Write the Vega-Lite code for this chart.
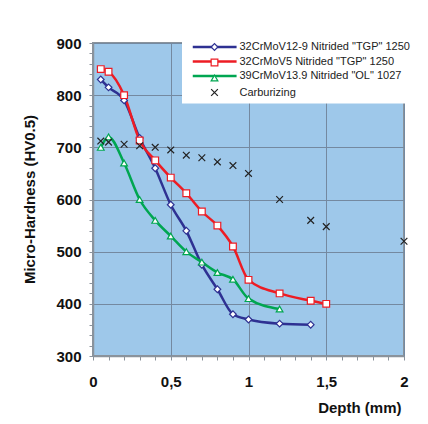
{
  "$schema": "https://vega.github.io/schema/vega-lite/v6.json",
  "width": 311,
  "height": 313,
  "autosize": "none",
  "padding": {"left": 93, "top": 43, "right": 24, "bottom": 68},
  "background": "white",
  "config": {
    "font": "Liberation Sans",
    "view": {"fill": "#9ec8ea", "stroke": "#8a939c", "strokeWidth": 2}
  },
  "data": {
    "values": [
      {"s": "32CrMoV12-9 Nitrided \"TGP\" 1250", "depth": 0.05, "hv": 830},
      {"s": "32CrMoV12-9 Nitrided \"TGP\" 1250", "depth": 0.1, "hv": 815},
      {"s": "32CrMoV12-9 Nitrided \"TGP\" 1250", "depth": 0.2, "hv": 790},
      {"s": "32CrMoV12-9 Nitrided \"TGP\" 1250", "depth": 0.3, "hv": 718},
      {"s": "32CrMoV12-9 Nitrided \"TGP\" 1250", "depth": 0.4, "hv": 660},
      {"s": "32CrMoV12-9 Nitrided \"TGP\" 1250", "depth": 0.5, "hv": 590},
      {"s": "32CrMoV12-9 Nitrided \"TGP\" 1250", "depth": 0.6, "hv": 540},
      {"s": "32CrMoV12-9 Nitrided \"TGP\" 1250", "depth": 0.7, "hv": 475},
      {"s": "32CrMoV12-9 Nitrided \"TGP\" 1250", "depth": 0.8, "hv": 428},
      {"s": "32CrMoV12-9 Nitrided \"TGP\" 1250", "depth": 0.9, "hv": 380},
      {"s": "32CrMoV12-9 Nitrided \"TGP\" 1250", "depth": 1.0, "hv": 370},
      {"s": "32CrMoV12-9 Nitrided \"TGP\" 1250", "depth": 1.2, "hv": 362},
      {"s": "32CrMoV12-9 Nitrided \"TGP\" 1250", "depth": 1.4, "hv": 360},
      {"s": "32CrMoV5 Nitrided \"TGP\" 1250", "depth": 0.05, "hv": 850},
      {"s": "32CrMoV5 Nitrided \"TGP\" 1250", "depth": 0.1, "hv": 845},
      {"s": "32CrMoV5 Nitrided \"TGP\" 1250", "depth": 0.2, "hv": 800},
      {"s": "32CrMoV5 Nitrided \"TGP\" 1250", "depth": 0.3, "hv": 713},
      {"s": "32CrMoV5 Nitrided \"TGP\" 1250", "depth": 0.4, "hv": 675},
      {"s": "32CrMoV5 Nitrided \"TGP\" 1250", "depth": 0.5, "hv": 642},
      {"s": "32CrMoV5 Nitrided \"TGP\" 1250", "depth": 0.6, "hv": 612},
      {"s": "32CrMoV5 Nitrided \"TGP\" 1250", "depth": 0.7, "hv": 577},
      {"s": "32CrMoV5 Nitrided \"TGP\" 1250", "depth": 0.8, "hv": 550},
      {"s": "32CrMoV5 Nitrided \"TGP\" 1250", "depth": 0.9, "hv": 510},
      {"s": "32CrMoV5 Nitrided \"TGP\" 1250", "depth": 1.0, "hv": 446},
      {"s": "32CrMoV5 Nitrided \"TGP\" 1250", "depth": 1.2, "hv": 420},
      {"s": "32CrMoV5 Nitrided \"TGP\" 1250", "depth": 1.4, "hv": 406},
      {"s": "32CrMoV5 Nitrided \"TGP\" 1250", "depth": 1.5, "hv": 400},
      {"s": "39CrMoV13.9  Nitrided \"OL\" 1027", "depth": 0.05, "hv": 700},
      {"s": "39CrMoV13.9  Nitrided \"OL\" 1027", "depth": 0.1, "hv": 720},
      {"s": "39CrMoV13.9  Nitrided \"OL\" 1027", "depth": 0.2, "hv": 670},
      {"s": "39CrMoV13.9  Nitrided \"OL\" 1027", "depth": 0.3, "hv": 600},
      {"s": "39CrMoV13.9  Nitrided \"OL\" 1027", "depth": 0.4, "hv": 560},
      {"s": "39CrMoV13.9  Nitrided \"OL\" 1027", "depth": 0.5, "hv": 530},
      {"s": "39CrMoV13.9  Nitrided \"OL\" 1027", "depth": 0.6, "hv": 500},
      {"s": "39CrMoV13.9  Nitrided \"OL\" 1027", "depth": 0.7, "hv": 480},
      {"s": "39CrMoV13.9  Nitrided \"OL\" 1027", "depth": 0.8, "hv": 460},
      {"s": "39CrMoV13.9  Nitrided \"OL\" 1027", "depth": 0.9, "hv": 447},
      {"s": "39CrMoV13.9  Nitrided \"OL\" 1027", "depth": 1.0, "hv": 410},
      {"s": "39CrMoV13.9  Nitrided \"OL\" 1027", "depth": 1.2, "hv": 390},
      {"s": "Carburizing", "depth": 0.05, "hv": 712},
      {"s": "Carburizing", "depth": 0.1, "hv": 710},
      {"s": "Carburizing", "depth": 0.2, "hv": 706},
      {"s": "Carburizing", "depth": 0.3, "hv": 703},
      {"s": "Carburizing", "depth": 0.4, "hv": 700},
      {"s": "Carburizing", "depth": 0.5, "hv": 695},
      {"s": "Carburizing", "depth": 0.6, "hv": 685},
      {"s": "Carburizing", "depth": 0.7, "hv": 680},
      {"s": "Carburizing", "depth": 0.8, "hv": 672},
      {"s": "Carburizing", "depth": 0.9, "hv": 665},
      {"s": "Carburizing", "depth": 1.0, "hv": 650},
      {"s": "Carburizing", "depth": 1.2, "hv": 600},
      {"s": "Carburizing", "depth": 1.4, "hv": 560},
      {"s": "Carburizing", "depth": 1.5, "hv": 548},
      {"s": "Carburizing", "depth": 2.0, "hv": 520}
    ]
  },
  "encoding": {
    "x": {
      "field": "depth",
      "type": "quantitative",
      "scale": {"domain": [0, 2], "nice": false, "zero": false},
      "axis": {
        "title": "Depth (mm)",
        "values": [0, 0.1, 0.2, 0.3, 0.4, 0.5, 0.6, 0.7, 0.8, 0.9, 1, 1.1, 1.2, 1.3, 1.4, 1.5, 1.6, 1.7, 1.8, 1.9, 2],
        "labelExpr": "abs(datum.value*2 - round(datum.value*2)) < 0.001 ? replace(format(datum.value, '~g'), '.', ',') : ''",
        "labelOverlap": false,
        "labelFlush": false,
        "labelFont": "Liberation Sans",
        "labelFontWeight": "bold",
        "labelFontSize": 15,
        "labelColor": "#111",
        "labelPadding": 14,
        "tickSize": 4,
        "tickColor": "#8a939c",
        "domainColor": "#8a939c",
        "domainWidth": 1.5,
        "grid": true,
        "gridColor": "#7489a0",
        "gridOpacity": {"condition": {"test": "abs(datum.value*2 - round(datum.value*2)) < 0.001", "value": 1}, "value": 0},
        "titleFont": "Liberation Sans",
        "titleFontWeight": "bold",
        "titleFontSize": 15,
        "titleColor": "#111",
        "titleAlign": "right",
        "titleBaseline": "alphabetic",
        "titleX": 308,
        "titleY": 56
      }
    },
    "y": {
      "field": "hv",
      "type": "quantitative",
      "scale": {"domain": [300, 900], "nice": false, "zero": false},
      "axis": {
        "title": "Micro-Hardness (HV0.5)",
        "values": [300, 320, 340, 360, 380, 400, 420, 440, 460, 480, 500, 520, 540, 560, 580, 600, 620, 640, 660, 680, 700, 720, 740, 760, 780, 800, 820, 840, 860, 880, 900],
        "labelExpr": "datum.value % 100 == 0 ? datum.label : ''",
        "labelOverlap": false,
        "labelFlush": false,
        "labelFont": "Liberation Sans",
        "labelFontWeight": "bold",
        "labelFontSize": 15,
        "labelColor": "#111",
        "labelPadding": 8,
        "tickSize": 4,
        "tickColor": "#8a939c",
        "domainColor": "#8a939c",
        "domainWidth": 1.5,
        "grid": true,
        "gridColor": "#7489a0",
        "gridOpacity": {"condition": {"test": "datum.value % 100 == 0", "value": 1}, "value": 0},
        "titleFont": "Liberation Sans",
        "titleFontWeight": "bold",
        "titleFontSize": 15,
        "titleColor": "#111",
        "titleX": -56,
        "titleY": 156
      }
    }
  },
  "layer": [
    {
      "transform": [{"filter": "datum.s != 'Carburizing'"}],
      "mark": {"type": "line", "interpolate": "monotone"},
      "encoding": {
        "stroke": {
          "field": "s",
          "type": "nominal",
          "scale": {
            "domain": ["32CrMoV12-9 Nitrided \"TGP\" 1250", "32CrMoV5 Nitrided \"TGP\" 1250", "39CrMoV13.9  Nitrided \"OL\" 1027", "Carburizing"],
            "range": ["#2e3192", "#ed1c24", "#00a651", "#ffffff"]
          },
          "legend": {
            "title": null,
            "orient": "none",
            "legendX": 89,
            "legendY": -9.5,
            "fillColor": "white",
            "padding": 8,
            "zindex": 1,
            "symbolType": "M-1,0H15",
            "symbolSize": 30,
            "labelFont": "Liberation Sans",
            "labelFontSize": 11,
            "labelColor": "#222",
            "labelOffset": 38.5,
            "labelLimit": 300,
            "rowPadding": 2.5,
            "labelExpr": "datum.label == 'Carburizing' ? '' : datum.label"
          }
        },
        "strokeWidth": {
          "field": "s",
          "type": "nominal",
          "scale": {
            "domain": ["32CrMoV12-9 Nitrided \"TGP\" 1250", "32CrMoV5 Nitrided \"TGP\" 1250", "39CrMoV13.9  Nitrided \"OL\" 1027", "Carburizing"],
            "range": [2.5, 2.5, 4, 0]
          },
          "legend": {
            "title": null,
            "orient": "none",
            "legendX": 89,
            "legendY": -9.5,
            "fillColor": "white",
            "padding": 8,
            "zindex": 1,
            "symbolType": "M-1,0H15",
            "symbolSize": 30,
            "labelFont": "Liberation Sans",
            "labelFontSize": 11,
            "labelColor": "#222",
            "labelOffset": 38.5,
            "labelLimit": 300,
            "rowPadding": 2.5,
            "labelExpr": "datum.label == 'Carburizing' ? '' : datum.label"
          }
        }
      }
    },
    {
      "mark": {"type": "point", "filled": false, "fill": "white", "fillOpacity": 1, "opacity": 1, "size": 45, "strokeWidth": 1.2},
      "encoding": {
        "stroke": {
          "field": "s",
          "type": "nominal",
          "scale": {
            "domain": ["32CrMoV12-9 Nitrided \"TGP\" 1250", "32CrMoV5 Nitrided \"TGP\" 1250", "39CrMoV13.9  Nitrided \"OL\" 1027", "Carburizing"],
            "range": ["#2e3192", "#ed1c24", "#00a651", "#222222"]
          },
          "legend": {
            "title": null,
            "orient": "none",
            "legendX": 108,
            "legendY": -9.5,
            "padding": 8,
            "zindex": 2,
            "symbolSize": 45,
            "symbolFillColor": "white",
            "symbolStrokeWidth": 1.2,
            "labelFont": "Liberation Sans",
            "labelFontSize": 11,
            "labelColor": "#222",
            "labelOffset": 19.5,
            "labelLimit": 300,
            "rowPadding": 2.5,
            "labelExpr": "datum.label == 'Carburizing' ? 'Carburizing' : ''"
          }
        },
        "shape": {
          "field": "s",
          "type": "nominal",
          "scale": {
            "domain": ["32CrMoV12-9 Nitrided \"TGP\" 1250", "32CrMoV5 Nitrided \"TGP\" 1250", "39CrMoV13.9  Nitrided \"OL\" 1027", "Carburizing"],
            "range": ["diamond", "square", "triangle-up", "M-1,-1L1,1M1,-1L-1,1"]
          },
          "legend": {
            "title": null,
            "orient": "none",
            "legendX": 108,
            "legendY": -9.5,
            "padding": 8,
            "zindex": 2,
            "symbolSize": 45,
            "symbolFillColor": "white",
            "symbolStrokeWidth": 1.2,
            "labelFont": "Liberation Sans",
            "labelFontSize": 11,
            "labelColor": "#222",
            "labelOffset": 19.5,
            "labelLimit": 300,
            "rowPadding": 2.5,
            "labelExpr": "datum.label == 'Carburizing' ? 'Carburizing' : ''"
          }
        }
      }
    }
  ],
  "resolve": {"scale": {"stroke": "independent", "shape": "independent", "strokeWidth": "independent"}}
}
